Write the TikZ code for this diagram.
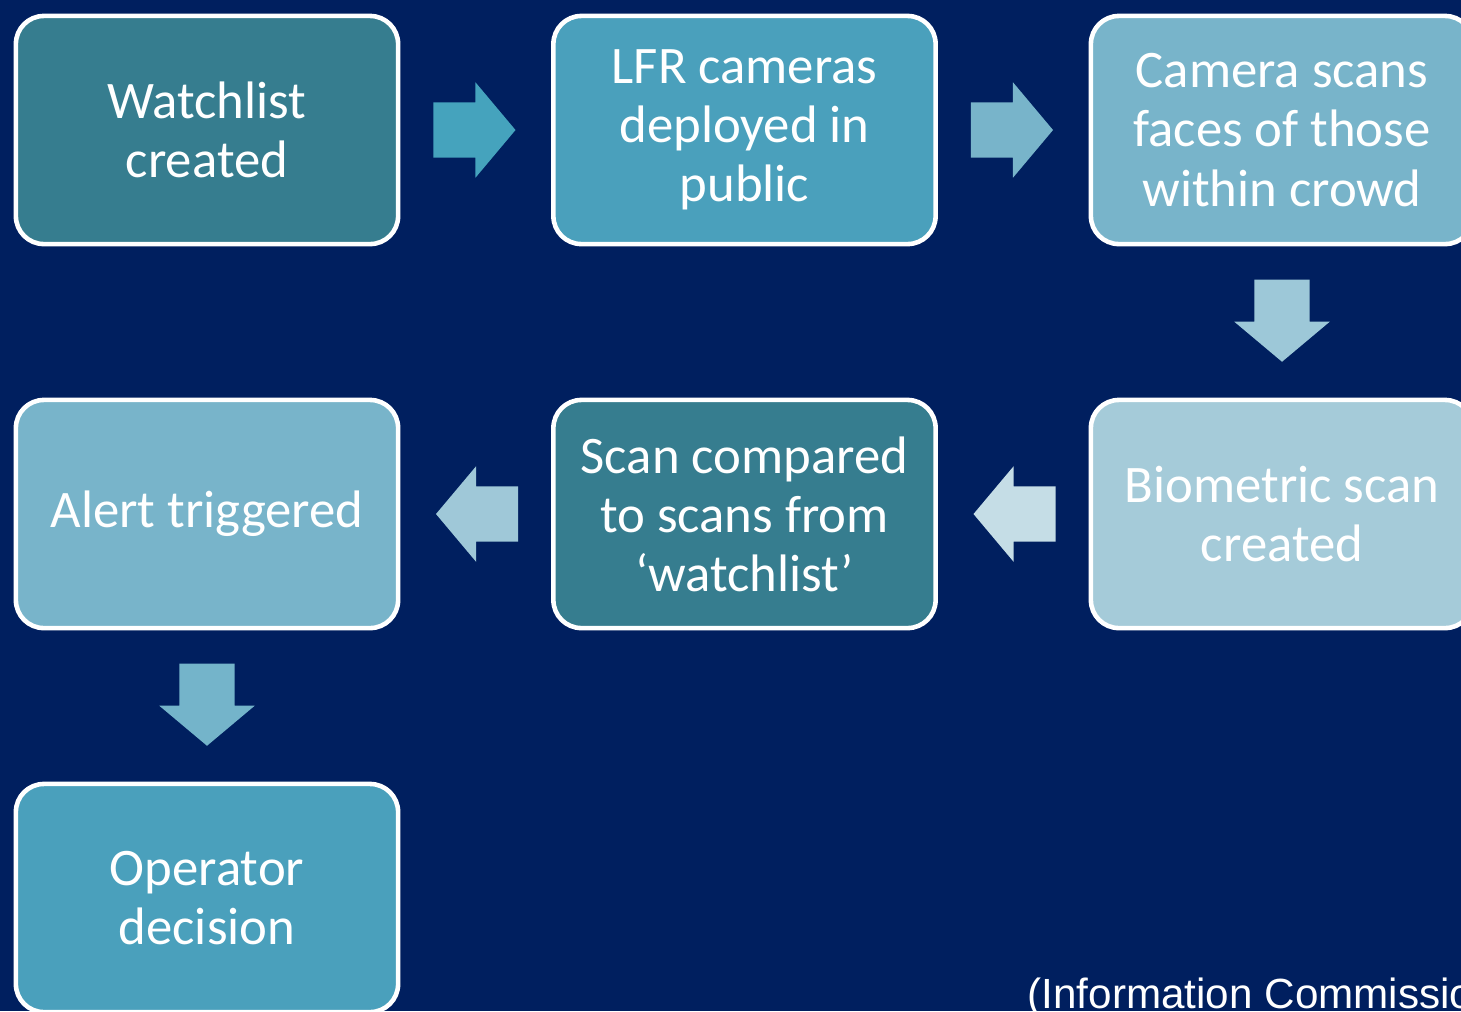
\documentclass[tikz,border=0pt]{standalone}
\usepackage{fontspec}
\setmainfont{Carlito}
\newfontfamily\footfont{Liberation Sans}
\usetikzlibrary{shapes.arrows,calc}
\definecolor{navy}{RGB}{0,31,95}
\definecolor{tealdark}{RGB}{54,125,143}
\definecolor{tealmid}{RGB}{74,160,188}
\definecolor{teallight}{RGB}{120,180,202}
\definecolor{tealpale}{RGB}{165,203,217}
\begin{document}
\begin{tikzpicture}[x=0.01cm,y=-0.01cm,
    stage/.style={draw=white,line width=1.3pt,rounded corners=0.28cm,minimum width=3.82cm,
      minimum height=2.28cm,align=center,text=white,font=\fontsize{15}{16.8}\selectfont},
    blockarrow/.style={single arrow,anchor=tail,inner xsep=0pt,inner ysep=0.27cm,minimum height=0.82cm,
      minimum width=0.94cm,single arrow head extend=0.2cm,single arrow tip angle=100,draw=none}]
      \fill[navy] (0,0) rectangle (1461,1011);
      \useasboundingbox (0,0) rectangle (1461,1011);
      \node[stage,fill=tealdark] (watch) at (207,130) {Watchlist\\created};
      \node[stage,fill=tealmid] (deploy) at (744.5,130) {LFR cameras\\deployed in\\public};
      \node[stage,fill=teallight] (faces) at (1282,130) {Camera scans\\faces of those\\within crowd};
      \node[stage,fill=tealpale] (biom) at (1282,514) {Biometric scan\\created};
      \node[stage,fill=tealdark] (compare) at (744.5,514) {Scan compared\\to scans from\\‘watchlist’};
      \node[stage,fill=teallight] (alert) at (207,514) {Alert triggered};
      \node[stage,fill=tealmid] (decide) at (207,898) {Operator\\decision};
      \node[blockarrow,fill={rgb,255:red,69;green,163;blue,189}] (a1) at ($(watch.east)!0.5!(deploy.west)+(-43,0)$) {};
      \node[blockarrow,fill=teallight] (a2) at ($(deploy.east)!0.5!(faces.west)+(-43,0)$) {};
      \node[blockarrow,rotate=-90,fill={rgb,255:red,157;green,200;blue,216}] (a3) at ($(faces.south)!0.5!(biom.north)+(0,-43)$) {};
      \node[blockarrow,rotate=180,fill={rgb,255:red,197;green,221;blue,230}] (a4) at ($(biom.west)!0.5!(compare.east)+(43,0)$) {};
      \node[blockarrow,rotate=180,fill={rgb,255:red,159;green,200;blue,216}] (a5) at ($(compare.west)!0.5!(alert.east)+(43,0)$) {};
      \node[blockarrow,rotate=-90,fill={rgb,255:red,116;green,180;blue,202}] (a6) at ($(alert.south)!0.5!(decide.north)+(0,-43)$) {};
      \node[anchor=base west,inner sep=0pt,text=white,font=\footfont\fontsize{12}{14}\selectfont] (source) at (1027,1008) {(Information Commissioner's Office};
\end{tikzpicture}
\end{document}
